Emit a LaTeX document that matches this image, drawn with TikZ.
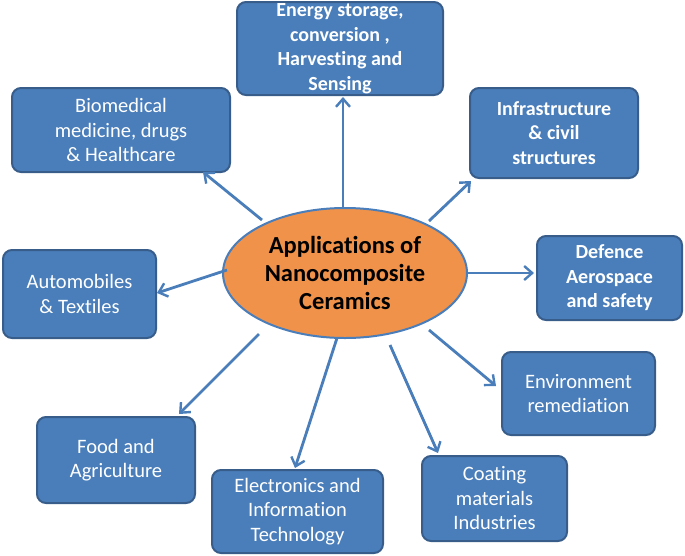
\documentclass[tikz,border=0pt]{standalone}
\usepackage{fontspec}
\setmainfont{Carlito}[Ligatures=NoCommon]
\usetikzlibrary{shapes.geometric,arrows.meta}
\definecolor{boxfill}{HTML}{4A7EBB}
\definecolor{boxline}{HTML}{385D8A}
\definecolor{ovfill}{HTML}{F0924A}
\definecolor{arr}{HTML}{4A7EBB}
\begin{document}
\begin{tikzpicture}[x=1pt,y=-1pt,
  appbox/.style={draw=boxline,line width=2pt,fill=boxfill,rounded corners=9pt,text=white,align=center,font=\fontsize{20.5}{24.5}\selectfont,inner sep=0pt},
  boldbox/.style={appbox,font=\fontsize{20}{24.5}\selectfont\bfseries},
  conn/.style={draw=arr,line width=2.8pt,-{Straight Barb[length=8pt,width=14pt,line width=2.4pt]}}]
\useasboundingbox (0,0) rectangle (685,555);
\node[ellipse,draw=boxfill,line width=2pt,fill=ovfill,minimum width=244pt,minimum height=130pt,align=center,font=\fontsize{24.5}{28}\selectfont\bfseries,inner sep=0pt] (c) at (345,273) {Applications of\\Nanocomposite\\Ceramics};
\node[boldbox,minimum width=206pt,minimum height=93pt] (en) at (340,48.5) {Energy storage,\\conversion ,\\Harvesting and\\Sensing};
\node[appbox,minimum width=218pt,minimum height=84pt] (bio) at (121,130) {Biomedical\\medicine, drugs\\\& Healthcare};
\node[boldbox,minimum width=168pt,minimum height=90pt] (inf) at (554,133) {Infrastructure\\\& civil\\structures};
\node[appbox,minimum width=153pt,minimum height=88pt] (auto) at (79.5,294) {Automobiles\\\& Textiles};
\node[boldbox,minimum width=145pt,minimum height=84pt] (def) at (609.5,278) {Defence\\Aerospace\\and safety};
\node[appbox,minimum width=153pt,minimum height=83pt] (env) at (578.5,393.5) {Environment\\remediation};
\node[appbox,minimum width=158pt,minimum height=86pt] (food) at (116,460) {Food and\\Agriculture};
\node[appbox,minimum width=171pt,minimum height=83pt] (ele) at (297.5,511.5) {Electronics and\\Information\\Technology};
\node[appbox,minimum width=145pt,minimum height=85pt] (coat) at (494.5,498.5) {Coating\\materials\\Industries};
\coordinate (tEn) at (343,97);
\coordinate (tBio) at (203,172);
\coordinate (tInf) at (471,181);
\coordinate (tDef) at (534,273);
\coordinate (tEnv) at (496,386);
\coordinate (tCoat) at (438,453);
\coordinate (tEle) at (295,468);
\coordinate (tFood) at (179,414);
\coordinate (tAuto) at (157,293);
\draw[conn] (c.north -| tEn) -- (tEn);
\draw[conn] (c) ++(-83,-53) -- (tBio);
\draw[conn] (c) ++(84,-52) -- (tInf);
\draw[conn] (c.east) -- (tDef);
\draw[conn] (c) ++(84,57) -- (tEnv);
\draw[conn] (c) ++(45,72) -- (tCoat);
\draw[conn] (c) ++(-8,65) -- (tEle);
\draw[conn] (c) ++(-86,61) -- (tFood);
\draw[conn] (c) ++(-118,-3) -- (tAuto);
\end{tikzpicture}
\end{document}
